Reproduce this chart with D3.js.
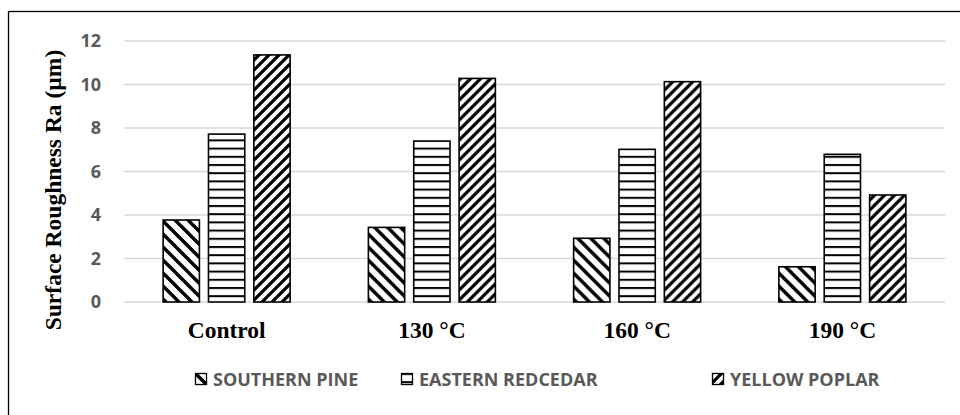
<!DOCTYPE html>
<html>
<head>
<meta charset="utf-8">
<script src="https://cdn.jsdelivr.net/npm/d3@7"></script>
<style>
  html, body { margin: 0; padding: 0; background: #fff; }
  svg { display: block; }
</style>
</head>
<body>
<svg id="chart" width="960" height="415"></svg>
<script>
const categories = ["Control", "130 °C", "160 °C", "190 °C"];
const seriesNames = ["SOUTHERN PINE", "EASTERN REDCEDAR", "YELLOW POPLAR"];
const southernPine = [3.77, 3.43, 2.93, 1.62];
const easternRedcedar = [7.72, 7.40, 7.02, 6.79];
const yellowPoplar = [11.36, 10.28, 10.13, 4.92];
const yTicks = [0, 2, 4, 6, 8, 10, 12];

const seriesValues = [southernPine, easternRedcedar, yellowPoplar];
const patternIds = ["pSP", "pEC", "pYP"];

const svg = d3.select("#chart");
const defs = svg.append("defs");

// Southern pine: wide downward diagonal "\"
const p1 = defs.append("pattern").attr("id", "pSP").attr("patternUnits", "userSpaceOnUse")
  .attr("width", 13).attr("height", 13);
p1.append("rect").attr("width", 13).attr("height", 13).attr("fill", "#fff");
p1.append("path").attr("d", "M-3.25,-3.25L16.25,16.25M-3.25,9.75L3.25,16.25M9.75,-3.25L16.25,3.25")
  .attr("stroke", "#000").attr("stroke-width", 3.4);

// Eastern redcedar: horizontal lines
const p2 = defs.append("pattern").attr("id", "pEC").attr("patternUnits", "userSpaceOnUse")
  .attr("width", 8).attr("height", 8.2);
p2.append("rect").attr("width", 8).attr("height", 8.2).attr("fill", "#fff");
p2.append("rect").attr("y", 0).attr("width", 8).attr("height", 2).attr("fill", "#000");

// Yellow poplar: dark upward diagonal "/"
const p3 = defs.append("pattern").attr("id", "pYP").attr("patternUnits", "userSpaceOnUse")
  .attr("width", 10).attr("height", 10);
p3.append("rect").attr("width", 10).attr("height", 10).attr("fill", "#fff");
p3.append("path").attr("d", "M-2.5,12.5L12.5,-2.5M-2.5,2.5L2.5,-2.5M7.5,12.5L12.5,7.5")
  .attr("stroke", "#000").attr("stroke-width", 3.2);

// outer frame (extends past the page on the right and bottom)
svg.append("rect").attr("x", 8.5).attr("y", 11.5).attr("width", 1000).attr("height", 1000)
  .attr("fill", "none").attr("stroke", "#000").attr("stroke-width", 1.3);

const left = 124, right = 945;
const y = d3.scaleLinear().domain([0, 12]).range([302, 41]);
const x0 = d3.scaleBand().domain(categories).range([left, right]).padding(0);
const x1 = d3.scaleBand().domain(seriesNames).range([0, x0.bandwidth()])
  .paddingInner(0.2).paddingOuter(0.8625);

// gridlines
svg.append("g").selectAll("line").data(yTicks).join("line")
  .attr("x1", left).attr("x2", right)
  .attr("y1", d => y(d)).attr("y2", d => y(d))
  .attr("stroke", "#d9d9d9").attr("stroke-width", 1.5);

// y axis labels
const yAxis = d3.axisLeft(y).tickValues(yTicks).tickSize(0).tickPadding(23);
const gy = svg.append("g").attr("transform", `translate(${left},0)`).call(yAxis);
gy.select(".domain").remove();
gy.selectAll("text")
  .attr("font-family", "'Open Sans', sans-serif").attr("font-weight", "bold")
  .attr("font-size", "18px").attr("fill", "#595959");

// bars
const groups = svg.append("g").selectAll("g").data(categories).join("g")
  .attr("transform", d => `translate(${x0(d)},0)`);
groups.selectAll("rect")
  .data((c, i) => seriesNames.map((s, j) => ({ s, j, v: seriesValues[j][i] })))
  .join("rect")
  .attr("x", d => x1(d.s))
  .attr("width", x1.bandwidth())
  .attr("y", d => y(d.v))
  .attr("height", d => y(0) - y(d.v))
  .attr("fill", d => `url(#${patternIds[d.j]})`)
  .attr("stroke", "#000").attr("stroke-width", 1.6);

// x category labels
const xAxis = d3.axisBottom(x0).tickSize(0).tickPadding(0);
const gx = svg.append("g").attr("transform", `translate(0,${y(0)})`).call(xAxis);
gx.select(".domain").remove();
gx.selectAll("text")
  .attr("y", 36).attr("dy", null)
  .attr("font-family", "'Liberation Serif', 'Times New Roman', serif").attr("font-weight", "bold")
  .attr("font-size", "23.5px").attr("fill", "#000");

// y title
svg.append("text")
  .attr("transform", "translate(61,190) rotate(-90)")
  .attr("text-anchor", "middle")
  .attr("font-family", "'Liberation Serif', 'Times New Roman', serif").attr("font-weight", "bold")
  .attr("font-size", "23.5px").attr("fill", "#000")
  .text("Surface Roughness Ra (µm)");

// legend
const legendX = [195, 401, 712];
const lg = svg.append("g").selectAll("g").data(seriesNames).join("g")
  .attr("transform", (d, i) => `translate(${legendX[i]},373)`);
lg.append("rect").attr("x", 0.5).attr("y", 0.5).attr("width", 11).attr("height", 11)
  .attr("fill", (d, i) => `url(#${patternIds[i]})`)
  .attr("stroke", "#000").attr("stroke-width", 1.3);
lg.append("text").attr("x", 18).attr("y", 12.5)
  .attr("font-family", "'Open Sans', sans-serif").attr("font-weight", "bold")
  .attr("font-size", "18px").attr("fill", "#595959")
  .text(d => d);
</script>
</body>
</html>
